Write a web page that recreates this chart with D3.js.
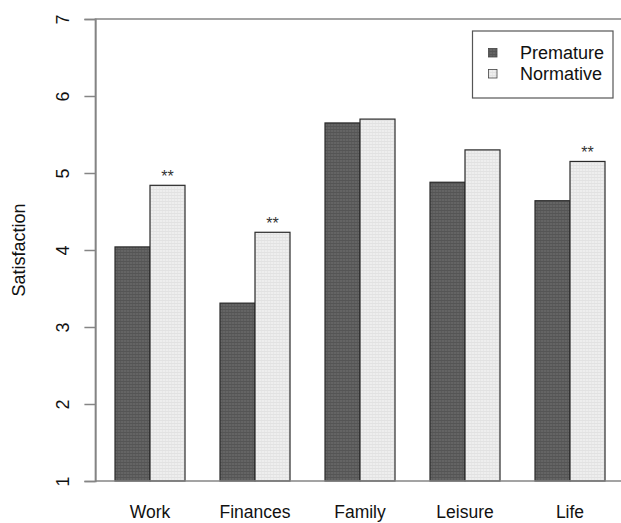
<!DOCTYPE html>
<html><head><meta charset="utf-8">
<script src="https://cdn.jsdelivr.net/npm/d3@7"></script>
<style>body{margin:0;background:#fff}svg{display:block;font-family:"Liberation Sans",Arial,Helvetica,sans-serif}</style>
</head><body>
<script>
const categories = ["Work","Finances","Family","Leisure","Life"];
const premature = [4.04, 3.31, 5.65, 4.88, 4.64];
const normative = [4.84, 4.23, 5.70, 5.30, 5.15];
const significant = ["**", "**", "", "", "**"];
const seriesNames = ["Premature","Normative"];
const yTicks = [1,2,3,4,5,6,7];

const W = 621, H = 523;
const svg = d3.select("body").append("svg").attr("width", W).attr("height", H);
const defs = svg.append("defs");
function pat(id, base, line) {
  const p = defs.append("pattern").attr("id", id).attr("patternUnits","userSpaceOnUse")
    .attr("width", 3).attr("height", 3);
  p.append("rect").attr("width",3).attr("height",3).attr("fill", base);
  p.append("rect").attr("width",3).attr("height",1).attr("fill", line);
  p.append("rect").attr("width",1).attr("height",3).attr("fill", line).attr("opacity",0.6);
}
pat("pDark", "#646464", "#555555");
pat("pLight", "#eeeeee", "#e2e2e2");

const x = d3.scaleLinear().domain([0.44, 15.56]).range([95.4, 624.6]);
const y = d3.scaleLinear().domain([1, 7]).range([481, 19]);
const axisCol = "#858585";
const FS = 18;

// bars
const g = svg.append("g");
categories.forEach((c, i) => {
  const l1 = 1 + 3*i, l2 = 2 + 3*i;
  g.append("rect").attr("x", x(l1)).attr("width", x(l1+1)-x(l1))
    .attr("y", y(premature[i])).attr("height", y(1)-y(premature[i]))
    .attr("fill","url(#pDark)").attr("stroke","#2a2a2a").attr("stroke-width",1.2);
  g.append("rect").attr("x", x(l2)).attr("width", x(l2+1)-x(l2))
    .attr("y", y(normative[i])).attr("height", y(1)-y(normative[i]))
    .attr("fill","url(#pLight)").attr("stroke","#2a2a2a").attr("stroke-width",1.2);
  if (significant[i]) {
    g.append("text").attr("x", x(l2+0.5)).attr("y", y(normative[i]) - 3)
      .attr("text-anchor","middle").attr("font-size",16).attr("fill","#333").text(significant[i]);
  }
  svg.append("text").attr("x", x(l1+1)).attr("y", 518).attr("text-anchor","middle")
    .attr("font-size",17.5).attr("fill","#111").text(c);
});

// box
svg.append("rect").attr("x", x(0.44)).attr("y", y(7)).attr("width", x(15.56)-x(0.44))
  .attr("height", y(1)-y(7)).attr("fill","none").attr("stroke",axisCol).attr("stroke-width",1.5);

// y axis
const ax = svg.append("g").attr("transform", `translate(${x(0.44)},0)`)
  .call(d3.axisLeft(y).tickValues(yTicks).tickSize(11).tickFormat(d3.format("d")));
ax.select(".domain").attr("stroke", axisCol).attr("stroke-width",1.5);
ax.selectAll(".tick line").attr("stroke", axisCol).attr("stroke-width",1.5);
ax.selectAll(".tick text").attr("font-size",FS).attr("fill","#111")
  .attr("font-family","'Liberation Sans',Arial,sans-serif")
  .attr("x", null).attr("dy", null)
  .attr("text-anchor","middle")
  .attr("transform","translate(-33,0) rotate(-90)")
  .attr("y", 0).attr("dy","0.35em");

svg.append("text").attr("transform", `translate(25,${y(4)}) rotate(-90)`)
  .attr("text-anchor","middle").attr("font-size",FS).attr("fill","#111").text("Satisfaction");

// legend
const lg = svg.append("g");
lg.append("rect").attr("x",472.5).attr("y",31).attr("width",140.5).attr("height",67)
  .attr("fill","#fff").attr("stroke","#555").attr("stroke-width",1.2);
const fills = ["url(#pDark)","url(#pLight)"];
seriesNames.forEach((s, k) => {
  const cy = 53 + k*21;
  lg.append("rect").attr("x",488.5).attr("y",cy-4.5).attr("width",8.5).attr("height",8.5)
    .attr("fill",fills[k]).attr("stroke","#444").attr("stroke-width",0.8);
  lg.append("text").attr("x",520).attr("y",cy).attr("dy","0.35em").attr("font-size",FS)
    .attr("fill","#111").text(s);
});
</script>
</body></html>
